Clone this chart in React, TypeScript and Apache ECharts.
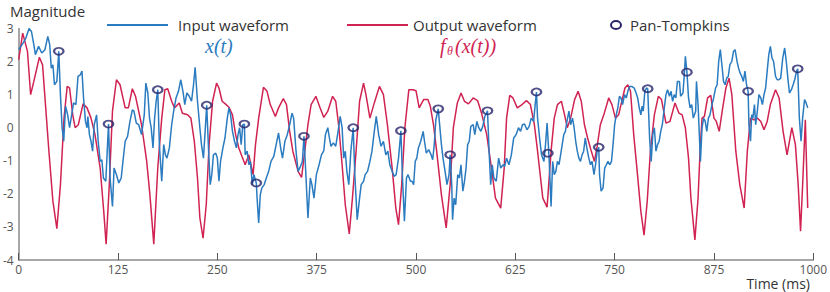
import React, { useEffect, useRef } from "react";
import * as echarts from "echarts";

const xTicks = [0, 125, 250, 375, 500, 625, 750, 875, 1000];
const yTicks = [-4, -3, -2, -1, 0, 1, 2, 3];

const inputWave: [number, number][] = [
[0,2.36],[5.4,2.56],[9,2.71],[13,3.0],[16,2.91],[19,2.51],[21,2.21],[25,2.46],[29,2.26],[33,2.36],[36.6,2.76],[39,2.51],[41,1.8],[43,1.9],[45,1.3],[48,1.4],[50.4,2.31],[52.5,1.0],[54.6,0.0],[56.6,-0.41],[59,0.65],[61.6,0.39],[64,0.0],[66,0.29],[69,0.75],[72,0.7],[74.6,1.55],[77.5,1.6],[79.6,1.71],[81.6,0.9],[84,0.19],[86,0.0],[87,0.34],[89,-0.21],[91,-0.41],[93,-0.71],[95,0.09],[98,0.39],[100,-0.41],[102.5,-1.02],[104.6,-0.97],[106.6,-1.52],[109.6,-1.62],[113,0.11],[115,-1.52],[118,-2.38],[120,-1.22],[123,-1.42],[126,-1.67],[129,-1.52],[131.6,-0.92],[134,-0.41],[137,-0.26],[140,0.19],[143,0.54],[145,0.5],[148,0.14],[151,0.09],[154.6,-0.21],[158,0.39],[160,1.35],[162.5,1.05],[164.6,0.29],[166.7,0.0],[169,-0.61],[171,0.29],[173,0.8],[175,1.15],[177,-0.51],[180,-1.62],[182.5,-0.51],[184.6,-0.82],[186.6,-0.92],[189.6,-0.61],[192.5,0.09],[195,0.5],[198,0.9],[201,1.1],[204,1.45],[207,1.05],[209,0.7],[211.6,1.05],[214.6,0.95],[217.5,0.8],[220,1.3],[222,1.83],[225,0.8],[228,0.0],[230,-0.51],[232.5,-0.92],[234.6,-0.11],[236.6,0.68],[239,-0.71],[241,-1.72],[243,-1.42],[245,-0.82],[248,-0.77],[250,-0.92],[252,-1.62],[254,-1.02],[257,-0.61],[259.6,-0.31],[262.5,0.29],[264.6,0.6],[266.7,0.39],[269,-0.11],[271.6,-0.41],[274,-0.61],[276,-0.21],[278,0.0],[280,-0.51],[282,0.09],[284,0.11],[285,-0.82],[287.5,-0.71],[289.6,-1.12],[291.6,-1.02],[294,-1.72],[296,-1.42],[299,-1.67],[300,-2.13],[302,-2.88],[304,-2.03],[306,-1.82],[309,-1.72],[311.6,-1.52],[314.6,-1.32],[317.5,-1.02],[321,-0.87],[324,-0.51],[327,-0.16],[330,-0.66],[332,-0.92],[335,-0.41],[338,-0.21],[341,0.09],[344,0.44],[346,0.29],[349,-0.71],[351.6,-1.32],[354.6,-1.17],[357,-1.02],[359,-0.26],[361,-1.22],[364,-2.73],[367,-1.52],[369,-1.72],[371.6,-2.13],[374.6,-1.42],[378,-1.12],[381,-0.82],[384,-0.69],[386,-0.21],[389,0.0],[391,-0.31],[393,-0.56],[396,-0.46],[399,-0.56],[401.6,-0.16],[404.6,0.34],[407,0.0],[409,-0.92],[411,-0.71],[413,-1.32],[415.4,-1.72],[418,-0.71],[421,0.0],[423,-1.42],[426,-2.78],[429,-2.13],[431,-1.72],[434,-1.62],[436,-1.42],[439,-1.32],[442,-1.02],[444.6,-0.71],[447.5,-0.11],[450,0.34],[453,-0.21],[456,-0.56],[459,-0.41],[462,-0.82],[464.6,-0.71],[467,-1.12],[470,-1.32],[472.5,-1.47],[475,-1.42],[478,-0.92],[481,-0.09],[483,-1.52],[485.4,-2.83],[488,-1.52],[490,-1.42],[493,-1.62],[495,-1.62],[497,-1.72],[499,-1.02],[501,-0.92],[503,-0.61],[506,-0.41],[509,-0.11],[511,-0.46],[513,-0.77],[516,-0.66],[519,-0.82],[521,-0.97],[523,-0.51],[525,0.24],[528,0.57],[529,0.29],[532,-0.51],[534,-0.92],[536.6,-1.32],[539,-1.72],[541.6,-1.42],[543,-0.82],[545,-1.72],[546,-2.78],[548,-2.13],[550,-2.33],[552.5,-1.42],[554.6,-1.52],[556.6,-1.12],[559,-1.92],[561,-1.62],[563,-1.22],[565,-0.51],[567,-0.41],[569,0.04],[572,0.09],[574,-0.21],[576.6,0.19],[579,0.0],[581.6,-0.11],[584,0.04],[586.6,0.34],[590,0.51],[592,-0.71],[594,-1.72],[596,-1.12],[598,-1.52],[601,-1.62],[604,-0.92],[606.6,-1.22],[609.6,-1.12],[611.6,-1.17],[614,-0.92],[617,-1.12],[620,-0.82],[623,-0.31],[626,-0.21],[629,0.0],[631.6,-0.11],[634,0.09],[636.6,0.11],[639.6,-0.06],[642.5,0.04],[645,0.29],[648,0.19],[650,0.7],[651.6,1.08],[653,0.29],[656,-0.41],[658,-0.82],[661,-1.02],[663,-0.51],[665,0.14],[667.5,-0.92],[670,-2.38],[672,-1.02],[674,-1.42],[676,-1.32],[678,-1.02],[680,-1.12],[682,-0.82],[684,-0.51],[686,-0.21],[688,-0.11],[690,0.19],[692.5,0.5],[694.6,0.09],[697,0.29],[699,0.0],[701,-0.41],[703,-0.71],[705,-0.92],[707,-1.02],[709,-0.82],[711,-0.71],[713,-0.31],[715,-0.61],[717.5,-0.92],[719.6,-1.12],[721.6,-1.02],[724,-1.42],[726,-1.12],[728,-0.71],[730,-0.59],[731,-1.42],[733,-1.92],[735.4,-1.82],[737.5,-1.22],[739.6,-1.12],[741.6,-1.02],[744,-1.12],[746,-1.02],[748,-0.51],[750,0.09],[752,0.39],[754,0.6],[756,0.95],[758,0.9],[760,0.7],[762.5,1.0],[764.6,0.9],[766.6,1.1],[769,1.25],[771.6,1.25],[774.6,1.2],[777,1.05],[779,0.9],[781,0.6],[783,0.39],[784.6,0.65],[786,0.5],[788,1.1],[790,1.2],[791.6,1.18],[794,-0.31],[796,-1.02],[798,-0.21],[800,0.0],[802,-0.71],[804,-0.51],[806,-0.41],[808,-0.11],[810,0.09],[812.5,0.6],[814.6,1.0],[816.6,1.15],[819,0.95],[821,1.1],[823,0.8],[825,1.0],[827,0.9],[829,1.4],[831.6,1.4],[833,0.95],[836,1.05],[838,1.71],[839,2.16],[841,1.68],[843,0.9],[845,0.6],[847,0.7],[849,0.29],[852,0.5],[853,1.4],[855,0.7],[856.6,-0.21],[858,-1.02],[860,0.0],[862,0.29],[864,0.19],[866,-0.11],[868,0.29],[870,0.39],[872.5,0.7],[874.6,0.9],[877,1.2],[879,1.3],[881,2.01],[883,2.36],[885,1.9],[887,1.4],[889,1.3],[891,1.5],[893,1.55],[895,1.9],[897.5,2.01],[899.6,2.31],[901.6,2.36],[904,2.01],[906,1.8],[908,1.65],[910,1.55],[912,1.4],[914,1.71],[916,1.3],[918,1.1],[919,0.09],[921,-0.41],[922.5,0.39],[924,0.29],[926,0.7],[927.5,0.09],[929.6,0.5],[931.6,1.0],[934,0.9],[936,0.7],[938,1.0],[940,1.2],[942,1.71],[944,2.21],[946,2.46],[948,2.11],[950,2.01],[952.5,1.55],[954.6,1.45],[956.6,1.45],[959,1.5],[961.6,2.11],[964,2.41],[966,2.01],[968,1.5],[970,1.05],[972.5,1.15],[974.6,1.3],[976.6,1.45],[979,1.71],[980.4,1.78],[982.5,0.29],[984.6,-0.41],[986.6,0.29],[989,0.85],[991,0.75],[993,0.6]
];

const outputWave: [number, number][] = [
[0,2.06],[5,2.86],[11,2.31],[15,1.0],[19,1.4],[26,2.13],[30,1.9],[38,-0.71],[43,-2.22],[48,-3.05],[52.5,-1.72],[57,0.29],[61,1.25],[64,1.2],[68,0.39],[71,0.0],[75,0.09],[81,0.72],[86,0.6],[91,0.29],[96,-0.21],[102.5,-1.22],[107,-2.53],[110,-3.52],[114,-1.72],[118,0.5],[123,1.45],[127.5,1.3],[134,0.6],[138,0.6],[143,1.18],[147,0.95],[154.6,0.09],[161,-1.0],[165,-2.0],[170,-3.52],[175,-1.22],[180,0.29],[184,1.15],[187.5,1.18],[192.5,0.8],[196,0.6],[202,0.75],[206,0.44],[212.5,0.39],[216.7,0.29],[221,-0.41],[225,-1.52],[228,-2.73],[232,-3.34],[236,-2.33],[239.6,-0.51],[244,0.8],[249,1.35],[252,1.2],[256,0.8],[260,0.72],[264.6,0.62],[269,0.39],[273,-0.21],[277,-0.61],[281,-0.87],[285,-1.12],[289.6,-0.82],[295,-1.42],[298,-0.51],[302,0.29],[308,1.22],[312.5,1.1],[316.6,0.7],[323,0.34],[327,0.6],[333,0.88],[337,0.7],[341,-0.11],[345,-0.71],[351.6,-1.32],[356,-1.5],[360,-0.71],[364,0.09],[368,0.7],[374,0.95],[379,0.62],[384,0.31],[389,0.5],[395,0.95],[399,0.8],[403,0.0],[407,-1.12],[411,-2.33],[416,-3.21],[420,-2.13],[424.6,-0.71],[429,0.8],[434,1.35],[437,1.0],[442,0.29],[447.5,0.75],[454,1.25],[459,1.0],[464,0.09],[470,-1.22],[474.6,-2.43],[478,-2.93],[482,-1.72],[486,0.0],[491,1.15],[496,1.15],[500,1.12],[504,0.6],[509.6,0.85],[515,0.85],[518,0.65],[522,0.09],[526,-0.71],[532,-2.03],[538,-3.03],[543,-1.72],[547,0.0],[552,0.75],[556.7,1.05],[561,0.8],[566,0.72],[572,0.9],[577.5,0.82],[582.5,0.44],[589,-0.21],[595,-1.22],[600,-2.13],[606.6,-2.43],[611,-1.22],[614,0.29],[618,0.98],[622,0.9],[627.5,0.6],[632.5,0.68],[639,0.82],[644,0.7],[649,0.09],[653,-0.71],[659.6,-2.13],[665,-2.4],[670,-0.71],[674,0.29],[678,0.7],[683,0.8],[687,0.39],[690.4,0.0],[694.6,0.29],[699.6,0.85],[704,1.1],[708,0.8],[712,0.09],[716,-0.31],[720,-0.66],[724.6,-1.02],[728,-0.56],[732,0.09],[737,0.44],[742.5,0.9],[746.6,0.7],[751,0.29],[755,0.39],[759,0.8],[763,1.2],[766.6,1.3],[770,1.1],[774,-0.21],[778,-1.22],[783,-2.53],[787,-3.25],[791,-2.23],[795,-0.71],[800,0.39],[805,0.95],[809,0.85],[814.6,0.14],[819.6,0.19],[826,0.75],[831,0.44],[835,0.39],[839,0.0],[843,-0.92],[846,-2.13],[851,-3.39],[855,-2.13],[857.5,-0.71],[860,0.29],[863,0.34],[867,0.9],[871,0.98],[875,0.29],[878,0.19],[881.6,-0.11],[886,0.6],[890,1.2],[894,1.5],[897.5,1.0],[902.5,-0.71],[907.5,-1.72],[913,-2.43],[917,-0.71],[921,0.29],[925.4,0.24],[929.6,0.29],[934,0.19],[938,-0.06],[942,0.19],[946,0.7],[952.5,1.15],[957,0.9],[962,-0.11],[967,-0.82],[970,-0.41],[973,0.0],[977.5,-0.51],[981,-1.72],[984,-3.13],[986.6,-1.72],[990,0.24],[993,-2.43]
];

const panTompkins: [number, number][] = [
[50.4,2.31],[113,0.11],[175,1.15],[236.6,0.68],[284,0.11],[299,-1.67],[359,-0.26],[421,0.0],[481,-0.09],[528,0.57],[543,-0.82],[590,0.51],[651.6,1.08],[666,-0.77],[730,-0.59],[791.6,1.18],[841,1.68],[918,1.1],[980.4,1.78]
];

const BLUE = "#2a7bc0";
const RED = "#d02352";
const NAVY = "#27246a";
const FONT = "'Open Sans', Lato, sans-serif";
const MATH = "'Liberation Serif', 'DejaVu Serif', serif";

export default function App() {
  const ref = useRef<HTMLDivElement>(null);
  useEffect(() => {
    if (!ref.current) return;
    const chart = echarts.init(ref.current, undefined, { renderer: "svg" });
    chart.setOption({
      animation: false,
      backgroundColor: "#ffffff",
      grid: { left: 17, right: 13, top: 28.5, bottom: 32, containLabel: false },
      xAxis: {
        type: "value",
        min: xTicks[0],
        max: xTicks[xTicks.length - 1],
        interval: 125,
        axisLine: { show: true, onZero: false, lineStyle: { color: "#8a8a8a", width: 1.5 } },
        axisTick: { show: true, inside: true, length: 7, lineStyle: { color: "#555", width: 1 } },
        axisLabel: {
          color: "#555",
          fontSize: 12,
          fontFamily: FONT,
          margin: 3,
          formatter: (v: number) => String(v),
        },
        splitLine: { show: false },
      },
      yAxis: {
        type: "value",
        min: yTicks[0],
        max: yTicks[yTicks.length - 1],
        interval: 1,
        axisLine: { show: true, onZero: false, lineStyle: { color: "#8a8a8a", width: 1.5 } },
        axisTick: { show: false },
        axisLabel: { color: "#555", fontSize: 12, fontFamily: FONT, margin: 5, formatter: (v: number) => String(v) },
        splitLine: { show: false },
      },
      series: [
        {
          name: "Output waveform",
          type: "line",
          data: outputWave,
          showSymbol: false,
          lineStyle: { color: RED, width: 1.5 },
          z: 2,
        },
        {
          name: "Input waveform",
          type: "line",
          data: inputWave,
          showSymbol: false,
          lineStyle: { color: BLUE, width: 1.5 },
          z: 3,
        },
        {
          name: "Pan-Tompkins",
          type: "scatter",
          data: panTompkins,
          symbol: "circle",
          symbolSize: [9.5, 7],
          itemStyle: { color: "rgba(0,0,0,0)", borderColor: NAVY, borderWidth: 2 },
          z: 4,
        },
      ],
      graphic: [
        { type: "text", left: 10, top: 3, style: { text: "Magnitude", fontSize: 15, fontFamily: FONT, fill: "#333" } },
        { type: "text", right: 20, top: 276, style: { text: "Time (ms)", fontSize: 14, fontFamily: FONT, fill: "#333" } },
        { type: "line", shape: { x1: 107, y1: 25, x2: 168, y2: 25 }, style: { stroke: BLUE, lineWidth: 2 } },
        { type: "text", x: 178, y: 25, style: { text: "Input waveform", fontSize: 15, fontFamily: FONT, fill: "#333", verticalAlign: "middle" } },
        { type: "text", x: 205, y: 46, style: { text: "x(t)", fontSize: 20, fontStyle: "italic", fontFamily: MATH, fill: BLUE, verticalAlign: "middle" } },
        { type: "line", shape: { x1: 347, y1: 25, x2: 408, y2: 25 }, style: { stroke: RED, lineWidth: 2 } },
        { type: "text", x: 413, y: 25, style: { text: "Output waveform", fontSize: 15, fontFamily: FONT, fill: "#333", verticalAlign: "middle" } },
        { type: "text", x: 440, y: 46, style: { text: "f", fontSize: 20, fontStyle: "italic", fontFamily: MATH, fill: RED, verticalAlign: "middle" } },
        { type: "text", x: 447, y: 51, style: { text: "θ", fontSize: 12, fontStyle: "italic", fontFamily: MATH, fill: RED, verticalAlign: "middle" } },
        { type: "text", x: 455, y: 46, style: { text: "(x(t))", fontSize: 20, fontStyle: "italic", fontFamily: MATH, fill: RED, verticalAlign: "middle" } },
        { type: "ellipse", shape: { cx: 616, cy: 25, rx: 5, ry: 4 }, style: { fill: "none", stroke: NAVY, lineWidth: 2 } },
        { type: "text", x: 630, y: 25, style: { text: "Pan-Tompkins", fontSize: 15, fontFamily: FONT, fill: "#333", verticalAlign: "middle" } },
      ],
    });
    return () => chart.dispose();
  }, []);
  return <div ref={ref} style={{ width: 830, height: 292, position: "absolute", left: 0, top: 0 }} />;
}
